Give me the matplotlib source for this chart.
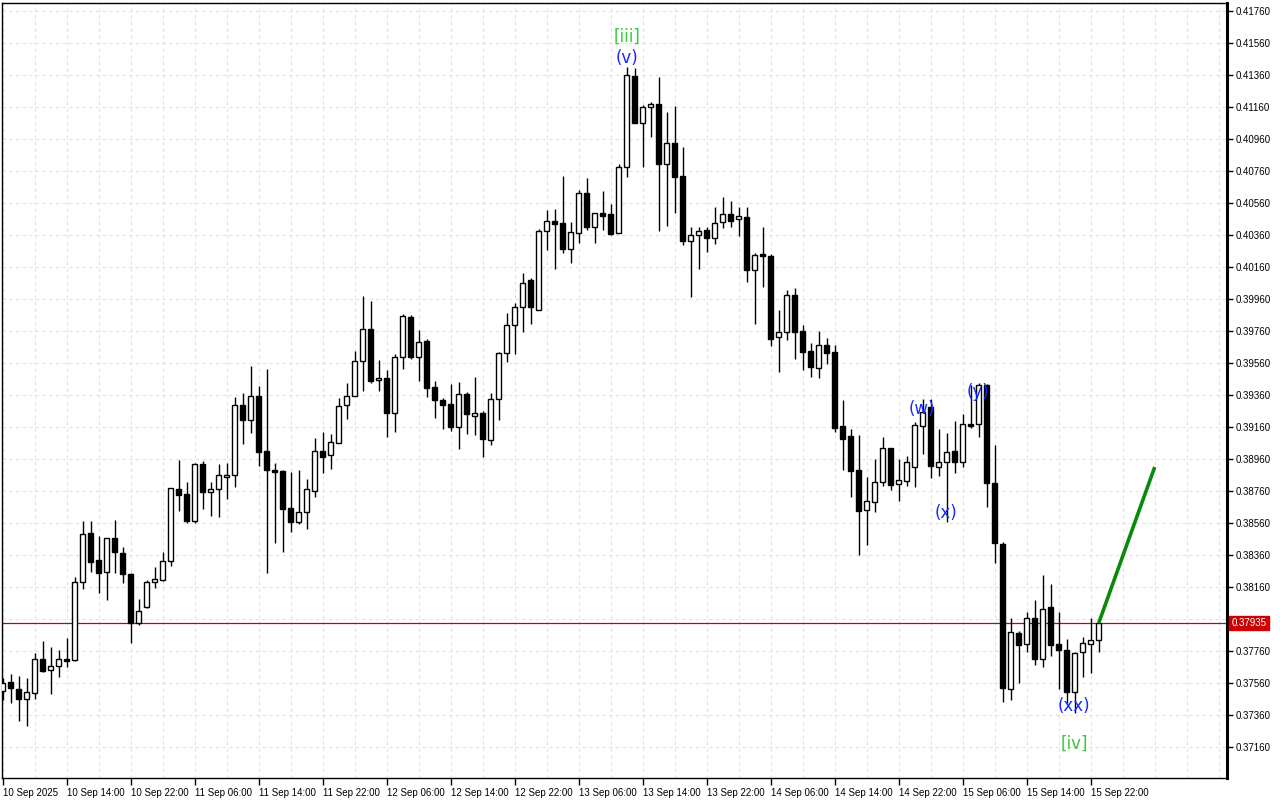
import matplotlib
matplotlib.use("Agg")
import numpy as np
import matplotlib.pyplot as plt
from matplotlib.ticker import FixedLocator, MultipleLocator
import matplotlib.transforms as mtransforms

plt.rcParams['font.family'] = ['Liberation Sans', 'DejaVu Sans']

# hourly candles, 10 Sep 06:00 .. 15 Sep 23:00
opens = [0.37510, 0.37564, 0.37521, 0.37458, 0.37496, 0.37708, 0.37639, 0.37664, 0.37708, 0.37706,
         0.38189, 0.38496, 0.38329, 0.38252, 0.38464, 0.38371, 0.38239, 0.37937, 0.38033, 0.38189,
         0.38204, 0.38321, 0.38773, 0.38739, 0.38574, 0.38927, 0.38756, 0.38771, 0.38846, 0.38858,
         0.39296, 0.39206, 0.39354, 0.39010, 0.38889, 0.38885, 0.38652, 0.38568, 0.38627, 0.38762,
         0.39010, 0.38983, 0.39058, 0.39296, 0.39352, 0.39571, 0.39771, 0.39452, 0.39464, 0.39246,
         0.39599, 0.39846, 0.39599, 0.39698, 0.39408, 0.39329, 0.39302, 0.39162, 0.39364, 0.39231,
         0.39246, 0.39077, 0.39337, 0.39621, 0.39796, 0.39908, 0.40079, 0.39889, 0.40383, 0.40446,
         0.40433, 0.40271, 0.40374, 0.40621, 0.40412, 0.40496, 0.40491, 0.40371, 0.40783, 0.41354,
         0.41058, 0.41158, 0.41179, 0.40802, 0.40933, 0.40729, 0.40324, 0.40358, 0.40391, 0.40339,
         0.40439, 0.40491, 0.40458, 0.40473, 0.40143, 0.40241, 0.40229, 0.39721, 0.39752, 0.39983,
         0.39760, 0.39633, 0.39531, 0.39673, 0.39629, 0.39166, 0.39104, 0.38891, 0.38639, 0.38693,
         0.38818, 0.39027, 0.38806, 0.38824, 0.38912, 0.39168, 0.39283, 0.38912, 0.38939, 0.39008,
         0.38943, 0.39179, 0.39177, 0.39423, 0.38808, 0.38429, 0.37521, 0.37871, 0.37804, 0.37964,
         0.37708, 0.38033, 0.37802, 0.37764, 0.37506, 0.37752, 0.37802, 0.37827]
highs = [0.37591, 0.37616, 0.37604, 0.37593, 0.37746, 0.37823, 0.37787, 0.37766, 0.37841, 0.38221,
         0.38573, 0.38573, 0.38479, 0.38464, 0.38579, 0.38408, 0.38249, 0.38083, 0.38204, 0.38283,
         0.38379, 0.38777, 0.38954, 0.38814, 0.38937, 0.38948, 0.38816, 0.38929, 0.38933, 0.39346,
         0.39371, 0.39541, 0.39416, 0.39521, 0.38933, 0.38891, 0.38877, 0.38891, 0.38833, 0.39091,
         0.39129, 0.39116, 0.39341, 0.39433, 0.39635, 0.39979, 0.39948, 0.39579, 0.39516, 0.39616,
         0.39866, 0.39860, 0.39766, 0.39710, 0.39448, 0.39343, 0.39429, 0.39441, 0.39379, 0.39473,
         0.39258, 0.39371, 0.39629, 0.39871, 0.39933, 0.40121, 0.40093, 0.40399, 0.40516, 0.40521,
         0.40729, 0.40439, 0.40641, 0.40716, 0.40496, 0.40635, 0.40554, 0.40804, 0.41412, 0.41402,
         0.41173, 0.41193, 0.41346, 0.41129, 0.41166, 0.40908, 0.40412, 0.40410, 0.40412, 0.40533,
         0.40599, 0.40573, 0.40533, 0.40533, 0.40249, 0.40408, 0.40241, 0.39891, 0.40016, 0.40029,
         0.39796, 0.39683, 0.39758, 0.39716, 0.39673, 0.39329, 0.39148, 0.39108, 0.38849, 0.38958,
         0.39096, 0.39027, 0.38958, 0.38979, 0.39193, 0.39335, 0.39335, 0.39148, 0.39121, 0.39198,
         0.39241, 0.39423, 0.39437, 0.39429, 0.39048, 0.38443, 0.37964, 0.37885, 0.38004, 0.38079,
         0.38233, 0.38179, 0.38004, 0.37833, 0.37756, 0.37849, 0.37964, 0.37964]
lows = [0.37454, 0.37433, 0.37324, 0.37293, 0.37458, 0.37631, 0.37493, 0.37599, 0.37662, 0.37699,
        0.38146, 0.38256, 0.38121, 0.38079, 0.38246, 0.38183, 0.37808, 0.37923, 0.38029, 0.38152,
        0.38199, 0.38291, 0.38637, 0.38558, 0.38562, 0.38649, 0.38606, 0.38599, 0.38712, 0.38787,
        0.39054, 0.39124, 0.38916, 0.38249, 0.38437, 0.38381, 0.38506, 0.38552, 0.38521, 0.38724,
        0.38871, 0.38899, 0.39058, 0.39208, 0.39352, 0.39387, 0.39433, 0.39383, 0.39099, 0.39131,
        0.39521, 0.39583, 0.39449, 0.39349, 0.39218, 0.39149, 0.39137, 0.39021, 0.39118, 0.39112,
        0.38974, 0.39049, 0.39206, 0.39566, 0.39618, 0.39756, 0.39806, 0.39889, 0.40266, 0.40149,
        0.40249, 0.40187, 0.40312, 0.40391, 0.40312, 0.40391, 0.40360, 0.40371, 0.40724, 0.41058,
        0.40787, 0.40974, 0.40385, 0.40416, 0.40499, 0.40298, 0.39971, 0.40149, 0.40256, 0.40302,
        0.40406, 0.40412, 0.40356, 0.40064, 0.39802, 0.40037, 0.39668, 0.39504, 0.39704, 0.39585,
        0.39518, 0.39474, 0.39464, 0.39556, 0.39131, 0.38891, 0.38724, 0.38360, 0.38423, 0.38631,
        0.38793, 0.38766, 0.38699, 0.38793, 0.38787, 0.38991, 0.38843, 0.38856, 0.38568, 0.38874,
        0.38912, 0.39151, 0.39099, 0.38662, 0.38312, 0.37443, 0.37454, 0.37558, 0.37756, 0.37673,
        0.37658, 0.37729, 0.37521, 0.37433, 0.37371, 0.37596, 0.37621, 0.37756]
closes = [0.37560, 0.37527, 0.37458, 0.37502, 0.37708, 0.37637, 0.37664, 0.37708, 0.37699, 0.38189,
          0.38489, 0.38318, 0.38249, 0.38464, 0.38381, 0.38239, 0.37937, 0.38008, 0.38189, 0.38208,
          0.38321, 0.38777, 0.38737, 0.38574, 0.38927, 0.38756, 0.38771, 0.38858, 0.38858, 0.39296,
          0.39206, 0.39354, 0.39006, 0.38893, 0.38881, 0.38649, 0.38568, 0.38627, 0.38771, 0.39008,
          0.38974, 0.39064, 0.39289, 0.39352, 0.39571, 0.39771, 0.39449, 0.39464, 0.39249, 0.39599,
          0.39854, 0.39599, 0.39689, 0.39406, 0.39329, 0.39299, 0.39162, 0.39364, 0.39239, 0.39246,
          0.39083, 0.39333, 0.39623, 0.39796, 0.39910, 0.40058, 0.39908, 0.40383, 0.40446, 0.40431,
          0.40274, 0.40377, 0.40621, 0.40412, 0.40496, 0.40481, 0.40366, 0.40783, 0.41358, 0.41058,
          0.41158, 0.41177, 0.40806, 0.40933, 0.40721, 0.40324, 0.40358, 0.40385, 0.40339, 0.40435,
          0.40491, 0.40449, 0.40479, 0.40143, 0.40233, 0.40227, 0.39712, 0.39752, 0.39983, 0.39756,
          0.39631, 0.39537, 0.39673, 0.39624, 0.39154, 0.39087, 0.38887, 0.38637, 0.38696, 0.38818,
          0.39027, 0.38799, 0.38827, 0.38939, 0.39171, 0.39256, 0.38918, 0.38943, 0.39002, 0.38943,
          0.39177, 0.39169, 0.39423, 0.38808, 0.38433, 0.37527, 0.37877, 0.37796, 0.37964, 0.37708,
          0.38023, 0.37796, 0.37764, 0.37506, 0.37749, 0.37808, 0.37827, 0.37935]

time_labels = ['10 Sep 2025', '10 Sep 14:00', '10 Sep 22:00', '11 Sep 06:00', '11 Sep 14:00',
               '11 Sep 22:00', '12 Sep 06:00', '12 Sep 14:00', '12 Sep 22:00', '13 Sep 06:00',
               '13 Sep 14:00', '13 Sep 22:00', '14 Sep 06:00', '14 Sep 14:00', '14 Sep 22:00',
               '15 Sep 06:00', '15 Sep 14:00', '15 Sep 22:00']
price_ticks = [0.37160, 0.37360, 0.37560, 0.37760, 0.37960, 0.38160, 0.38360, 0.38560, 0.38760,
               0.38960, 0.39160, 0.39360, 0.39560, 0.39760, 0.39960, 0.40160, 0.40360, 0.40560,
               0.40760, 0.40960, 0.41160, 0.41360, 0.41560, 0.41760]
last_price = 0.37935

# projected move (green line)
proj_x = [137, 144]
proj_y = [0.37935, 0.38910]

# wave labels: text, bar index, price, colour
wave_text = ['[iii]', '(v)', '(w)', '(x)', '(y)', '(xx)', '[iv]']
wave_x = [78, 78, 114.9, 117.9, 121.9, 133.9, 133.9]
wave_y = [0.41598, 0.41466, 0.39273, 0.38623, 0.39379, 0.37416, 0.37179]
wave_col = ['#3cc83c', '#1428ff', '#1428ff', '#1428ff', '#1428ff', '#1428ff', '#3cc83c']

W, H = 1280, 800
fig = plt.figure(figsize=(W / 100, H / 100), dpi=100)
ax = fig.add_axes([2 / W, 22 / H, 1225 / W, 775 / H])

idx = np.arange(len(opens))
o = np.array(opens); c = np.array(closes)
up = c >= o
bottoms = np.minimum(o, c)
heights = np.maximum(np.abs(c - o), 0.00003)

ax.vlines(idx, lows, highs, color='black', linewidth=1, zorder=3)
ax.bar(idx, heights, bottom=bottoms, width=0.62,
       color=np.where(up, 'white', 'black'), edgecolor='black', linewidth=1, zorder=4)

ax.axhline(last_price, color='#a01010', linewidth=0.9, zorder=2)
ax.plot(proj_x, proj_y, color='#0a8a0a', linewidth=2.6, zorder=5, solid_capstyle='butt')

for t, x, y, col in zip(wave_text, wave_x, wave_y, wave_col):
    ax.text(x, y, t, color=col, fontsize=12, ha='center', va='center', zorder=6,
            family=['DejaVu Sans'])

ax.set_xlim(-0.09, -0.09 + 1225 / 8)
ax.set_ylim(0.3696625, 0.4181)

ax.xaxis.set_major_locator(FixedLocator(np.arange(len(time_labels)) * 8))
ax.set_xticklabels(time_labels, ha='left', fontsize=7)
ax.xaxis.set_minor_locator(MultipleLocator(4))
ax.yaxis.tick_right()
ax.set_yticks(price_ticks)
# the level under the price tag is hidden by the tag itself
ax.set_yticklabels(['' if abs(p - last_price) < 0.0005 else '%.5f' % p for p in price_ticks],
                   fontsize=7)
ax.tick_params(axis='x', which='major', length=5, width=1, pad=2, direction='out')
ax.tick_params(axis='x', which='minor', length=0)
ax.tick_params(axis='y', length=4, width=1, pad=2, direction='out')

ax.grid(True, which='both', axis='x', color='#e2e2e2', linestyle=(0, (3, 3)), linewidth=0.8)
ax.grid(True, which='major', axis='y', color='#e2e2e2', linestyle=(0, (3, 3)), linewidth=0.8)
ax.set_axisbelow(True)

for s in ax.spines.values():
    s.set_color('black')
    s.set_linewidth(1)
ax.spines['right'].set_linewidth(2.2)

# current price tag on the price scale
trans = mtransforms.blended_transform_factory(ax.transAxes, ax.transData)
ax.text(1.0035, last_price, '%.5f' % last_price, transform=trans, fontsize=7, color='white',
        ha='left', va='center', zorder=10, clip_on=False,
        bbox=dict(boxstyle='square,pad=0.25', facecolor='#cc0000', edgecolor='#cc0000'))

fig.savefig('out.png', dpi=100, facecolor='white')
